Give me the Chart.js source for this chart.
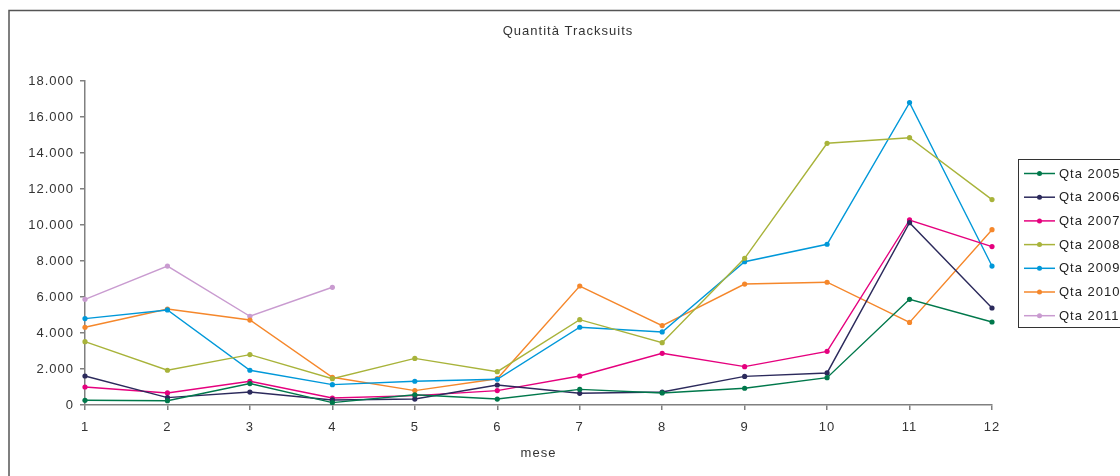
<!DOCTYPE html>
<html>
<head>
<meta charset="utf-8">
<title>Quantità Tracksuits</title>
<script src="https://cdn.jsdelivr.net/npm/chart.js@4.4.1/dist/chart.umd.min.js"></script>
<style>
  html, body { margin: 0; padding: 0; background: #fff; }
  #wrap { width: 1120px; height: 476px; overflow: hidden; }
</style>
</head>
<body>
<div id="wrap"><canvas id="chart" width="1120" height="476"></canvas></div>
<script>
// Months on the x axis
const months = ['1', '2', '3', '4', '5', '6', '7', '8', '9', '10', '11', '12'];

// Quantities per year
const qta2005 = [260, 240, 1190, 130, 570, 330, 870, 670, 930, 1520, 5870, 4610];
const qta2006 = [1610, 410, 720, 280, 330, 1110, 650, 720, 1590, 1780, 10130, 5390];
const qta2007 = [1000, 670, 1320, 390, 520, 800, 1610, 2870, 2130, 2980, 10280, 8800];
const qta2008 = [3520, 1930, 2800, 1460, 2590, 1850, 4740, 3460, 8150, 14540, 14850, 11410];
const qta2009 = [4800, 5280, 1930, 1130, 1320, 1430, 4320, 4060, 7960, 8930, 16800, 7720];
const qta2010 = [4320, 5330, 4720, 1540, 800, 1460, 6610, 4410, 6720, 6820, 4590, 9740];
const qta2011 = [5870, 7720, 4930, 6540];

const seriesNames = ['Qta 2005', 'Qta 2006', 'Qta 2007', 'Qta 2008', 'Qta 2009', 'Qta 2010', 'Qta 2011'];
const seriesColors = ['#00784B', '#2C2A5C', '#E5007E', '#A8B33A', '#0098D9', '#F5872B', '#C99BD0'];
const seriesData = [qta2005, qta2006, qta2007, qta2008, qta2009, qta2010, qta2011];

const FONT = '"Liberation Sans", Arial, sans-serif';
const TEXT = '#333';
const AXIS = '#808080';

function fmtThousands(v) {
    return String(v).replace(/\B(?=(\d{3})+(?!\d))/g, '.');
}

// Outer frame (top and left edge of the sheet); also the wider text tracking
const framePlugin = {
    id: 'frame',
    beforeDraw(chart) {
        const ctx = chart.ctx;
        ctx.letterSpacing = '1px';
        ctx.save();
        ctx.strokeStyle = '#555';
        ctx.lineWidth = 1.5;
        ctx.beginPath();
        ctx.moveTo(9, 480);
        ctx.lineTo(9, 10.5);
        ctx.lineTo(1125, 10.5);
        ctx.stroke();
        ctx.restore();
    }
};

// Legend box on the right, partly clipped like the original
const boxLegend = {
    id: 'boxLegend',
    afterDraw(chart) {
        const ctx = chart.ctx;
        const x0 = 1018.5, y0 = 159.5, step = 23.7;
        ctx.save();
        ctx.strokeStyle = '#333';
        ctx.lineWidth = 1;
        ctx.strokeRect(x0, y0, 120, 168);
        ctx.font = '13px ' + FONT;
        ctx.letterSpacing = '1px';
        ctx.textBaseline = 'middle';
        ctx.textAlign = 'left';
        chart.data.datasets.forEach((ds, i) => {
            const y = 173.5 + i * step;
            ctx.strokeStyle = ds.borderColor;
            ctx.lineWidth = 1.5;
            ctx.beginPath();
            ctx.moveTo(1024, y);
            ctx.lineTo(1055, y);
            ctx.stroke();
            ctx.fillStyle = ds.borderColor;
            ctx.beginPath();
            ctx.arc(1039.5, y, 2.5, 0, Math.PI * 2);
            ctx.fill();
            ctx.fillStyle = '#222';
            ctx.fillText(ds.label, 1059, y + 0.5);
        });
        ctx.restore();
    }
};

new Chart(document.getElementById('chart'), {
    type: 'line',
    data: {
        labels: months,
        datasets: seriesNames.map((name, i) => ({
            label: name,
            data: seriesData[i],
            borderColor: seriesColors[i],
            backgroundColor: seriesColors[i],
            pointBackgroundColor: seriesColors[i],
            borderWidth: 1.4,
            pointRadius: 2.6,
            pointBorderWidth: 0,
            tension: 0,
            fill: false
        }))
    },
    options: {
        responsive: false,
        animation: false,
        devicePixelRatio: 1,
        layout: { padding: { left: 16, right: 0, top: 0, bottom: 0 } },
        plugins: {
            legend: { display: false },
            tooltip: { enabled: false },
            title: {
                display: true,
                text: 'Quantità Tracksuits',
                color: TEXT,
                font: { family: FONT, size: 13, weight: 'normal', lineHeight: 1.2 },
                padding: { top: 24, bottom: 41.4 }
            }
        },
        scales: {
            x: {
                offset: false,
                afterFit(scale) { scale.height = 71; },
                grid: { drawOnChartArea: false, drawTicks: true, tickLength: 5, color: AXIS, lineWidth: 1.5 },
                border: { display: true, color: AXIS, width: 1.5 },
                ticks: { color: TEXT, font: { family: FONT, size: 13 }, padding: 10, maxRotation: 0, autoSkip: false },
                title: {
                    display: true,
                    text: 'mese',
                    color: TEXT,
                    font: { family: FONT, size: 13 },
                    padding: { top: 0, bottom: 15 }
                }
            },
            y: {
                min: 0,
                max: 18000,
                afterFit(scale) { scale.width = 69; },
                grid: { drawOnChartArea: false, drawTicks: true, tickLength: 5, color: AXIS, lineWidth: 1.5 },
                border: { display: true, color: AXIS, width: 1.5 },
                ticks: {
                    stepSize: 2000,
                    color: TEXT,
                    font: { family: FONT, size: 13 },
                    padding: 6,
                    callback: (v) => fmtThousands(v)
                }
            },
            // empty strip on the right that leaves room for the legend box
            side: {
                type: 'linear',
                position: 'right',
                afterFit(scale) { scale.width = 128; },
                grid: { display: false },
                border: { display: false },
                ticks: { display: false }
            }
        }
    },
    plugins: [framePlugin, boxLegend]
});
</script>
</body>
</html>
